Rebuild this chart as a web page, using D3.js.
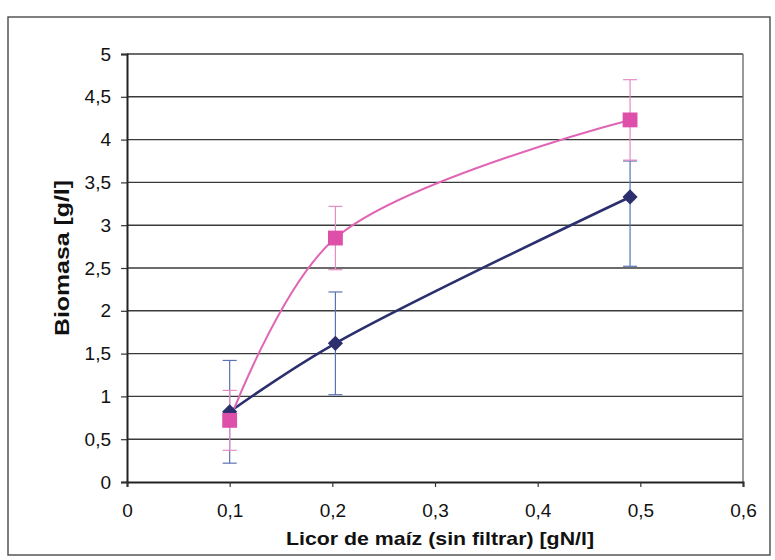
<!DOCTYPE html>
<html>
<head>
<meta charset="utf-8">
<script src="https://cdn.jsdelivr.net/npm/d3@7"></script>
<style>
  body { margin: 0; background: #fff; }
  text { font-family: "Liberation Sans", Arial, sans-serif; fill: #111; }
</style>
</head>
<body>
<div id="chart"></div>
<script>
// Data
const xVals = [0.1, 0.203, 0.49];
const serieA = [0.82, 1.62, 3.33];          // azul, rombos
const errA = [[0.22, 1.42], [1.02, 2.22], [2.52, 3.75]];
const serieB = [0.72, 2.85, 4.23];          // rosa, cuadrados
const errB = [[0.37, 1.07], [2.48, 3.22], [3.76, 4.70]];
const yTicks = [0, 0.5, 1, 1.5, 2, 2.5, 3, 3.5, 4, 4.5, 5];
const xTicks = [0, 0.1, 0.2, 0.3, 0.4, 0.5, 0.6];

const width = 775, height = 560;
const plot = { left: 127, right: 743, top: 54, bottom: 482 };

const svg = d3.select("#chart").append("svg")
    .attr("width", width)
    .attr("height", height);

// outer frame
svg.append("rect")
    .attr("x", 8).attr("y", 17)
    .attr("width", 762).attr("height", 538)
    .attr("fill", "none")
    .attr("stroke", "#555")
    .attr("stroke-width", 1.5);

const x = d3.scaleLinear().domain([0, 0.6]).range([plot.left, plot.right]);
const y = d3.scaleLinear().domain([0, 5]).range([plot.bottom, plot.top]);

const fmt = d => String(d).replace(".", ",");

// gridlines
svg.append("g")
    .selectAll("line")
    .data(yTicks.filter(d => d > 0))
    .join("line")
    .attr("x1", plot.left).attr("x2", plot.right)
    .attr("y1", d => y(d)).attr("y2", d => y(d))
    .attr("stroke", "#3a3a3a")
    .attr("stroke-width", 1.4);

// right border of the plot area
svg.append("line")
    .attr("x1", plot.right).attr("x2", plot.right)
    .attr("y1", plot.top).attr("y2", plot.bottom)
    .attr("stroke", "#777")
    .attr("stroke-width", 1.5);

// axes
const yAxis = svg.append("g")
    .attr("transform", `translate(${plot.left},0)`)
    .call(d3.axisLeft(y).tickValues(yTicks).tickFormat(fmt).tickSize(6).tickPadding(10));
const xAxis = svg.append("g")
    .attr("transform", `translate(0,${plot.bottom})`)
    .call(d3.axisBottom(x).tickValues(xTicks).tickFormat(fmt).tickSize(5).tickPadding(17));

[yAxis, xAxis].forEach(a => {
    a.select(".domain").attr("stroke", "#222").attr("stroke-width", 2);
    a.selectAll(".tick line").attr("stroke", "#333").attr("stroke-width", 1.2);
    a.selectAll(".tick text")
        .attr("font-family", "Liberation Sans, Arial, sans-serif")
        .attr("font-size", 19)
        .attr("fill", "#111");
});

// axis titles
svg.append("text")
    .attr("x", 440).attr("y", 545)
    .attr("text-anchor", "middle")
    .attr("font-size", 19)
    .attr("font-weight", "bold")
    .attr("textLength", 308)
    .attr("lengthAdjust", "spacingAndGlyphs")
    .text("Licor de maíz (sin filtrar) [gN/l]");

svg.append("text")
    .attr("transform", `translate(69,258) rotate(-90)`)
    .attr("text-anchor", "middle")
    .attr("font-size", 20)
    .attr("font-weight", "bold")
    .attr("textLength", 156)
    .attr("lengthAdjust", "spacingAndGlyphs")
    .text("Biomasa [g/l]");

const series = [
    { vals: serieA, err: errA, line: "#2b2f6e", marker: "#2b2f6e", bar: "#5a73b5", shape: "diamond" },
    { vals: serieB, err: errB, line: "#e065b4", marker: "#dd4fa8", bar: "#e58cc4", shape: "square" }
];

// error bars
series.forEach(s => {
    const g = svg.append("g").attr("stroke", s.bar).attr("stroke-width", 1.2);
    xVals.forEach((xv, i) => {
        const [lo, hi] = s.err[i];
        g.append("line").attr("x1", x(xv)).attr("x2", x(xv)).attr("y1", y(lo)).attr("y2", y(hi));
        g.append("line").attr("x1", x(xv) - 7).attr("x2", x(xv) + 7).attr("y1", y(lo)).attr("y2", y(lo));
        g.append("line").attr("x1", x(xv) - 7).attr("x2", x(xv) + 7).attr("y1", y(hi)).attr("y2", y(hi));
    });
});

// smoothed lines
series.forEach(s => {
    const line = d3.line()
        .x((d, i) => x(xVals[i]))
        .y(d => y(d))
        .curve(d3.curveCatmullRom.alpha(0.5));
    svg.append("path")
        .datum(s.vals)
        .attr("d", line)
        .attr("fill", "none")
        .attr("stroke", s.line)
        .attr("stroke-width", s.shape === "diamond" ? 2.6 : 2);
});

// markers (diamond = square turned 45 degrees)
series.forEach(s => {
    const isDiamond = s.shape === "diamond";
    const sym = d3.symbol(d3.symbolSquare, isDiamond ? 115 : 220);
    svg.append("g")
        .selectAll("path")
        .data(s.vals)
        .join("path")
        .attr("transform", (d, i) => `translate(${x(xVals[i])},${y(d)})` + (isDiamond ? " rotate(45)" : ""))
        .attr("d", sym)
        .attr("fill", s.marker);
});
</script>
</body>
</html>
